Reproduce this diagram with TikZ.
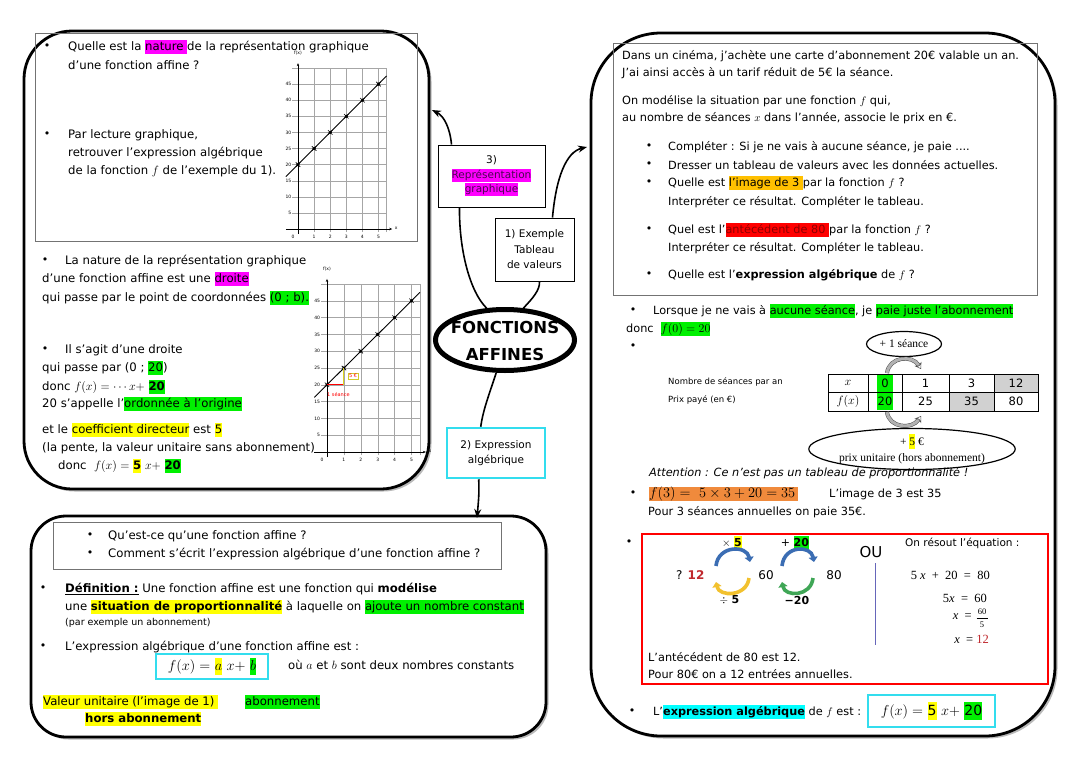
\documentclass[tikz,border=0pt]{standalone}
\usepackage{fontspec}
\setmainfont{DejaVu Sans}
\newfontfamily\serifF{Liberation Serif}
\usetikzlibrary{shapes.geometric,arrows.meta,shadows}
\definecolor{hlmag}{HTML}{FF00FF}
\definecolor{hlgreen}{HTML}{00F000}
\definecolor{hlyellow}{HTML}{FFFF00}
\definecolor{hlcyan}{HTML}{00FFFF}
\definecolor{hlorange}{HTML}{FFC000}
\definecolor{hlred}{HTML}{FF0000}
\definecolor{hlsalmon}{HTML}{F08A3C}
\definecolor{cyanbox}{HTML}{33DDEE}
\definecolor{arcblue}{HTML}{3B6DB3}
\definecolor{arcyellow}{HTML}{F2C12E}
\definecolor{arcgreen}{HTML}{3FA656}
\definecolor{darkred}{HTML}{C0282D}
\definecolor{darkmag}{HTML}{4A0850}
\newcommand\hl[2]{{\setlength{\fboxsep}{0pt}\colorbox{#1}{\vrule height 0.92em depth 0.3em width 0pt\relax #2}}}
\newcommand\graphe[5]{%
\begin{scope}[shift={(#1,#2)},x=#3pt,y=#4pt]
\foreach \i in {1,...,5} \draw[gridl] (\i,-1) -- (\i,50);
\foreach \j in {5,10,...,50} \draw[gridl] (-0.35,\j) -- (5.5,\j);
\draw[gridl] (5.5,-1) -- (5.5,50);
\draw[axisl,-{Stealth[length=3pt,width=2.5pt]}] (-0.75,0) -- (5.85,0);
\draw[axisl,-{Stealth[length=3pt,width=2.5pt]}] (0,-1.5) -- (0,51.5);
\foreach \j in {5,10,...,45} \node[tickl,anchor=east] (#5y\j) at (-0.4,\j) {\j};
\foreach \i in {1,...,5} \node[tickl] (#5x\i) at (\i,-2.4) {\i};
\node[tickl] (#5o) at (-0.3,-2.4) {0};
\node[tickl] (#5f) at (0,54.5) {f(x)};
\node[tickl,anchor=west] (#5xx) at (6.0,0.3) {x};
\draw[line width=0.9pt] (-0.75,16.25) -- (5.5,47.5);
\foreach \i in {0,...,5} {\fill (\i,{5*\i+20}) circle (1.7pt);
  \draw[line width=0.6pt] ([shift={(-2.2pt,-2.2pt)}]\i,{5*\i+20}) -- ([shift={(2.2pt,2.2pt)}]\i,{5*\i+20});
  \draw[line width=0.6pt] ([shift={(-2.2pt,2.2pt)}]\i,{5*\i+20}) -- ([shift={(2.2pt,-2.2pt)}]\i,{5*\i+20});}
\end{scope}}
\begin{document}
\begin{tikzpicture}[x=1pt,y=-1pt,
  every node/.style={inner sep=0pt},
  T/.style={anchor=west, font=\fontsize{11.7}{14}\selectfont},
  R/.style={anchor=west, font=\fontsize{11.3}{14}\selectfont},
  S/.style={anchor=west, font=\fontsize{8.5}{10}\selectfont},
  bul/.style={font=\fontsize{11}{14}\selectfont},
  bigbox/.style={draw, line width=2.8pt, fill=white, drop shadow={shadow xshift=2.5pt, shadow yshift=-2.5pt, fill=black!45, opacity=0.6}},
  thinbox/.style={draw=black!55, line width=0.8pt},
  cbox/.style={draw, line width=1pt, fill=white, align=center, font=\fontsize{10.5}{15.5}\selectfont},
  conn/.style={line width=1.6pt},
  tipst/.style={-{Stealth[length=9pt,width=7pt]}},
  gridl/.style={draw=black!35, line width=0.4pt},
  axisl/.style={line width=0.6pt},
  tickl/.style={font=\fontsize{4.5}{5}\selectfont},
  arcl/.style={line width=3.6pt, -{Triangle[length=5pt,width=9pt]}},
  eq/.style={anchor=east, font=\serifF\fontsize{12.5}{14}\selectfont},
  fr/.style={font=\serifF\fontsize{8.5}{9}\selectfont},
  grayarr/.style={draw=black!70, line width=0.5pt, double=black!30, double distance=3pt, -{Stealth[open,length=6pt,width=8pt]}}
]
\useasboundingbox (0,0) rectangle (1080,763);
\fill[white] (0,0) rectangle (1080,763);

% ---------- big boxes ----------
\node[bigbox, rounded corners=48pt, minimum width=405pt, minimum height=458pt] (boxA) at (226.5,260) {};
\node[bigbox, rounded corners=70pt, minimum width=464pt, minimum height=703pt] (boxC) at (823,384.5) {};
\node[bigbox, rounded corners=35pt, minimum width=515pt, minimum height=221pt] (boxB) at (288.5,626.5) {};

% ---------- box A ----------
\draw[thinbox] (35,33) rectangle (417,241);
\node[bul] (a1) at (47,47) {•};
\node[T] (a2) at (68,47) {Quelle est la \hl{hlmag}{nature }de la représentation graphique};
\node[T] (a3) at (68,65) {d’une fonction affine ?};
\node[bul] (a4) at (47,135) {•};
\node[T] (a5) at (68,135) {Par lecture graphique,};
\node[T] (a6) at (68,153) {retrouver l’expression algébrique};
\node[T] (a7) at (68,171) {de la fonction $f$ de l’exemple du 1).};
\graphe{298}{229}{16.1}{3.22}{g1}

\node[bul] (b1) at (45,261) {•};
\node[T] (b2) at (65,261) {La nature de la représentation graphique};
\node[T] (b3) at (42,279) {d’une fonction affine est une \hl{hlmag}{droite}};
\node[T] (b4) at (42,298) {qui passe par le point de coordonnées \hl{hlgreen}{(0 ; b).}};
\node[bul] (b5) at (45,350) {•};
\node[T] (b6) at (65,350) {Il s’agit d’une droite};
\node[T] (b7) at (42,368) {qui passe par (0 ; \hl{hlgreen}{20})};
\node[T] (b8) at (42,387) {donc $f(x) = \cdots x +$ \hl{hlgreen}{\textbf{20}}};
\node[T] (b9) at (42,404) {20 s’appelle l’\hl{hlgreen}{ordonnée à l’origine}};
\node[T] (b10) at (42,430) {et le \hl{hlyellow}{coefficient directeur} est \hl{hlyellow}{5}};
\node[T] (b11) at (42,448) {(la pente, la valeur unitaire sans abonnement)};
\node[T] (b12) at (58,466) {donc \ $f(x) =$ \hl{hlyellow}{\textbf{5}} $x +$ \hl{hlgreen}{\textbf{20}}};
\graphe{327}{452}{16.9}{3.36}{g2}
\draw[red, line width=1pt] (327,384.8) -- (343.9,384.8);
\draw[yellow!85!black, line width=1pt] (343.9,384.8) -- (343.9,368);
\node[draw=yellow!80!black, line width=0.3pt, inner sep=1pt, text=red, font=\fontsize{5}{6}\selectfont] (g2a) at (353,376) {5 €};
\node[text=red, anchor=west, font=\fontsize{5}{6}\selectfont] (g2b) at (327,395) {1 séance};

% ---------- centre ----------
\node[draw, ellipse, line width=5pt, minimum width=139pt, minimum height=61pt] (main) at (505,340) {};
\node[align=center, font=\fontsize{16.5}{27}\selectfont\bfseries] (maint) at (505,341) {FONCTIONS\\AFFINES};
\node[cbox, minimum width=107pt, minimum height=62pt] (box3) at (491.5,176) {3)\\[-1pt]\hl{hlmag}{\textcolor{darkmag}{Représentation}}\\[-1pt]\hl{hlmag}{\textcolor{darkmag}{graphique}}};
\node[cbox, minimum width=79pt, minimum height=63pt] (box1) at (534.5,249.5) {1) Exemple\\Tableau\\de valeurs};
\node[cbox, draw=cyanbox, line width=2.5pt, minimum width=98pt, minimum height=50pt] (box2) at (496,453) {2) Expression\\algébrique};
\coordinate (tipA) at (432,110);
\coordinate (tipC) at (587,147);
\coordinate (tipB) at (477,518);
\draw[conn] (main.120) .. controls (470,292) and (459,250) .. ([xshift=22pt]box3.south west);
\draw[conn,tipst] ([xshift=14pt]box3.north west) .. controls (450,128) and (444,116) .. (tipA);
\draw[conn] (main.60) .. controls (533,298) and (540,290) .. ([xshift=45pt]box1.south west);
\draw[conn,tipst] ([xshift=58pt]box1.north west) .. controls (556,178) and (566,152) .. (tipC);
\draw[conn] (main.255) .. controls (489,395) and (483,410) .. ([xshift=35pt]box2.north west);
\draw[conn,tipst] ([xshift=33pt]box2.south west) .. controls (479,495) .. (tipB);

% ---------- box B ----------
\draw[thinbox] (53,522) rectangle (501,569);
\node[bul] (c1) at (90,536) {•};
\node[T] (c2) at (108,536) {Qu’est-ce qu’une fonction affine ?};
\node[bul] (c3) at (90,554) {•};
\node[T] (c4) at (108,554) {Comment s’écrit l’expression algébrique d’une fonction affine ?};
\node[bul] (c5) at (43,589) {•};
\node[T] (c6) at (65,589) {\underline{\textbf{Définition :}} Une fonction affine est une fonction qui \textbf{modélise}};
\node[T] (c7) at (65,607) {une \hl{hlyellow}{\textbf{situation de proportionnalité}} à laquelle on \hl{hlgreen}{ajoute un nombre constant}};
\node[S, font=\fontsize{9.5}{11}\selectfont] (c8) at (65,623) {(par exemple un abonnement)};
\node[bul] (c9) at (43,647) {•};
\node[T] (c10) at (65,647) {L’expression algébrique d’une fonction affine est :};
\node[draw=cyanbox, line width=2.2pt, minimum width=112pt, minimum height=25pt, font=\fontsize{14}{15}\selectfont] (cb1) at (212,666.5) {$f(x) =$ \hl{hlyellow}{$a$} $x +$ \hl{hlgreen}{$b$}};
\node[T] (c11) at (288,665) {où $a$ et $b$ sont deux nombres constants};
\node[T] (c12) at (43,702) {\hl{hlyellow}{Valeur unitaire (l’image de 1)\hspace{4pt}}};
\node[T] (c13) at (85,719) {\hl{hlyellow}{\textbf{hors abonnement}}};
\node[T] (c14) at (245,702) {\hl{hlgreen}{abonnement}};

% ---------- box C ----------
\draw[thinbox] (613,43) rectangle (1037,295);
\node[R] (d1) at (622,56) {Dans un cinéma, j’achète une carte d’abonnement 20€ valable un an.};
\node[R] (d2) at (622,73) {J’ai ainsi accès à un tarif réduit de 5€ la séance.};
\node[R] (d3) at (622,101) {On modélise la situation par une fonction $f$ qui,};
\node[R] (d4) at (622,118) {au nombre de séances $x$ dans l’année, associe le prix en €.};
\node[bul] (d5) at (649,147) {•};
\node[R] (d6) at (668,147) {Compléter : Si je ne vais à aucune séance, je paie ....};
\node[bul] (d7) at (649,165) {•};
\node[R] (d8) at (668,165) {Dresser un tableau de valeurs avec les données actuelles.};
\node[bul] (d9) at (649,183) {•};
\node[R] (d10) at (668,183) {Quelle est \hl{hlorange}{l’image de 3 }par la fonction $f$ ?};
\node[R] (d11) at (668,202) {Interpréter ce résultat. Compléter le tableau.};
\node[bul] (d12) at (649,230) {•};
\node[R] (d13) at (668,230) {Quel est l’\hl{hlred}{\textcolor{red!55!black}{antécédent de 80 }}par la fonction $f$ ?};
\node[R] (d14) at (668,248) {Interpréter ce résultat. Compléter le tableau.};
\node[bul] (d15) at (649,275) {•};
\node[R] (d16) at (668,275) {Quelle est l’\textbf{expression algébrique} de $f$ ?};

\node[bul] (e1) at (633,311) {•};
\node[R] (e2) at (653,311) {Lorsque je ne vais à \hl{hlgreen}{aucune séance}, je \hl{hlgreen}{paie juste l’abonnement}};
\node[R] (e3) at (626,329) {donc \ \hl{hlgreen}{\fontsize{13}{14}\selectfont$f(0) = 20$}};
\node[bul] (e4) at (633,347) {•};
\node[draw, ellipse, line width=1.2pt, minimum width=75pt, minimum height=25pt, font=\serifF\fontsize{11.5}{13}\selectfont] (el1) at (904,344) {+ 1 séance};
\node[S] (e5) at (668,382) {Nombre de séances par an};
\node[S] (e6) at (668,400) {Prix payé (en €)};
% table
\fill[black!18] (994,374) rectangle (1038,392);
\fill[black!18] (949,392) rectangle (994,411);
\fill[hlgreen] (877,375) rectangle (893,410);
\draw[line width=0.7pt] (828,374) rectangle (1038,411);
\draw[line width=0.7pt] (828,392) -- (1038,392);
\foreach \xx in {868,902,949,994} \draw[line width=0.7pt] (\xx,374) -- (\xx,411);
\begin{scope}[every node/.style={font=\fontsize{11.5}{13}\selectfont}]
\node (t1) at (848,383) {\fontsize{13}{14}\selectfont$x$};
\node (t2) at (885,383) {0};
\node (t3) at (925.5,383) {1};
\node (t4) at (971.5,383) {3};
\node (t5) at (1016,383) {12};
\node (t6) at (848,401.5) {\fontsize{13}{14}\selectfont$f(x)$};
\node (t7) at (885,401.5) {20};
\node (t8) at (925.5,401.5) {25};
\node (t9) at (971.5,401.5) {35};
\node (t10) at (1016,401.5) {80};
\end{scope}
\draw[grayarr] (887,373) .. controls (889,357) and (912,354) .. (921,369);
\draw[grayarr] (887,412) .. controls (889,428) and (912,430) .. (921,416);
\node[draw, ellipse, line width=1.2pt, minimum width=198pt, minimum height=38pt, align=center, font=\serifF\fontsize{11.5}{16}\selectfont] (el2) at (912,449) {+ \hl{hlyellow}{5} €\\prix unitaire (hors abonnement)};
\node[R, font=\fontsize{11.3}{14}\selectfont\itshape] (e7) at (649,473) {Attention : Ce n’est pas un tableau de proportionnalité !};
\node[bul] (e8) at (633,494) {•};
\node[R] (e9) at (649,494) {\hl{hlsalmon}{\fontsize{14}{15}\selectfont$f(3) = \ 5\times 3 + 20 = 35$\hspace{3pt}}};
\node[R] (e10) at (829,494) {L’image de 3 est 35};
\node[R] (e11) at (648,512) {Pour 3 séances annuelles on paie 35€.};

% red box
\node[bul] (f1) at (629,543) {•};
\draw[red, line width=2.6pt] (642,534) rectangle (1048,684);
\node[font=\fontsize{11}{13}\selectfont] (f2) at (732,543) {$\times$ \hl{hlyellow}{\textbf{5}}};
\node[font=\fontsize{11}{13}\selectfont] (f3) at (795,543) {+ \hl{hlgreen}{\textbf{20}}};
\node[anchor=west, font=\fontsize{12}{14}\selectfont] (f4) at (676,575) {? \textcolor{darkred}{\textbf{12}}};
\node[font=\fontsize{12}{14}\selectfont] (f5) at (766,575) {60};
\node[font=\fontsize{12}{14}\selectfont] (f6) at (834,575) {80};
\node[font=\fontsize{11}{13}\selectfont] (f7) at (729.5,600) {$\div$ \textbf{5}};
\node[font=\fontsize{11}{13}\selectfont] (f8) at (797,600) {\textbf{−20}};
\draw[arcl, arcblue] (716,566) .. controls (718,545) and (747,545) .. (750,562);
\draw[arcl, arcyellow] (749,578) .. controls (747,597) and (719,597) .. (716,582);
\draw[arcl, arcblue] (782,566) .. controls (784,545) and (811,545) .. (814,562);
\draw[arcl, arcgreen] (813,578) .. controls (811,597) and (785,597) .. (782,582);
\node[font=\fontsize{15}{17}\selectfont] (f9) at (871,552) {OU};
\draw[black!45!blue!60, line width=0.6pt] (875,563) -- (875,645);
\node[anchor=west, font=\fontsize{10.5}{12}\selectfont] (f10) at (905,543) {On résout l’équation :};
\node[eq] (f11) at (990,575) {5 \textit{x} \ + \ 20 \ = \ 80};
\node[eq] (f12) at (987,598) {5\textit{x} \ = \ 60};
\node[eq] (f13) at (975,617) {\textit{x} \ = \ };
\node[fr] (f13n) at (982,611.5) {60};
\draw[line width=0.5pt] (976.5,618) -- (987.5,618);
\node[fr] (f13d) at (982,625) {5};
\node[eq] (f14) at (989,639) {\textit{x} \ = \textcolor{darkred}{12}};
\node[R] (f15) at (648,657) {L’antécédent de 80 est 12.};
\node[R] (f16) at (648,674) {Pour 80€ on a 12 entrées annuelles.};

\node[bul] (h1) at (632,712) {•};
\node[R] (h2) at (653,712) {L’\hl{hlcyan}{\textbf{expression algébrique}} de $f$ est :};
\node[draw=cyanbox, line width=2.5pt, minimum width=127pt, minimum height=32pt, font=\fontsize{14}{15}\selectfont] (cb2) at (931.5,711) {$f(x) =$ \hl{hlyellow}{5} $x +$ \hl{hlgreen}{20}};
\end{tikzpicture}
\end{document}
